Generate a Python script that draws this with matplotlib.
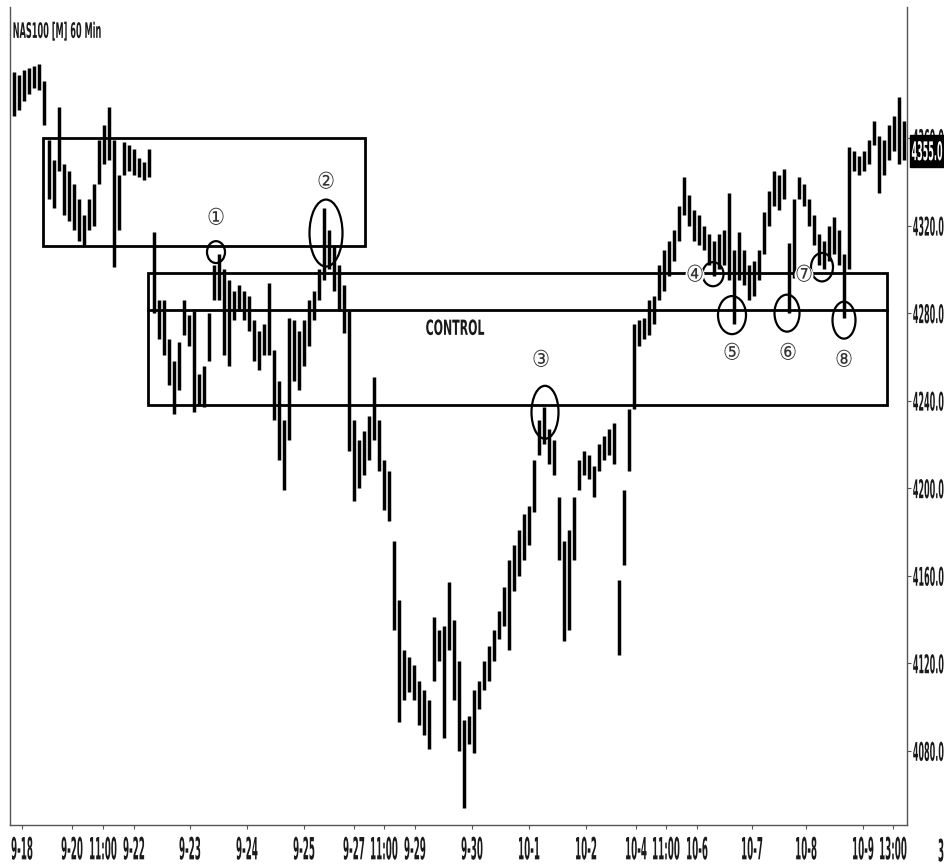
import matplotlib
matplotlib.use("Agg")
import matplotlib.pyplot as plt
from matplotlib.patches import Ellipse, Rectangle
from matplotlib.patheffects import AbstractPathEffect
from matplotlib.transforms import Affine2D, blended_transform_factory
import numpy as np

# ---------------- data ----------------
highs = [4390, 4389, 4391, 4392, 4393, 4394, 4386, 4359, 4350, 4374,
         4348, 4345, 4339, 4332, 4325, 4332, 4339, 4359, 4366, 4374,
         4359, 4343, 4358, 4357, 4355, 4351, 4349, 4355, 4317, 4286,
         4286, 4268, 4258, 4267, 4286, 4279, 4281, 4252, 4256, 4280,
         4302, 4307, 4300, 4295, 4290, 4293, 4290, 4288, 4277, 4272,
         4275, 4294, 4263, 4249, 4231, 4278, 4277, 4272, 4277, 4286,
         4290, 4300, 4328, 4318, 4311, 4302, 4293, 4281, 4231, 4222,
         4226, 4233, 4251, 4231, 4213, 4208, 4176, 4149, 4126, 4123,
         4119, 4112, 4108, 4103, 4141, 4135, 4137, 4157, 4140, 4121,
         4094, 4096, 4108, 4112, 4121, 4128, 4135, 4144, 4155, 4167,
         4174, 4181, 4188, 4192, 4213, 4231, 4237, 4227, 4222, 4196,
         4176, 4181, 4196, 4213, 4217, 4215, 4210, 4220, 4224, 4227,
         4230, 4158, 4199, 4236, 4275, 4277, 4278, 4286, 4288, 4302,
         4309, 4313, 4318, 4329, 4342, 4334, 4327, 4325, 4320, 4316,
         4313, 4316, 4318, 4335, 4309, 4317, 4309, 4302, 4304, 4309,
         4326, 4336, 4345, 4343, 4346, 4312, 4332, 4342, 4339, 4332,
         4325, 4316, 4313, 4320, 4324, 4318, 4307, 4356, 4354, 4352,
         4354, 4359, 4368, 4361, 4359, 4366, 4370, 4379, 4368]
lows = [4370, 4373, 4377, 4380, 4383, 4382, 4366, 4332, 4328, 4345,
        4325, 4322, 4318, 4313, 4311, 4318, 4320, 4339, 4348, 4350,
        4301, 4318, 4343, 4345, 4343, 4342, 4341, 4342, 4280, 4268,
        4261, 4247, 4234, 4245, 4270, 4265, 4235, 4238, 4237, 4258,
        4286, 4286, 4261, 4256, 4277, 4281, 4277, 4272, 4258, 4254,
        4261, 4261, 4231, 4213, 4199, 4222, 4249, 4245, 4256, 4265,
        4277, 4286, 4295, 4300, 4290, 4281, 4271, 4217, 4194, 4200,
        4206, 4213, 4222, 4208, 4190, 4185, 4135, 4093, 4103, 4107,
        4103, 4092, 4087, 4081, 4112, 4121, 4086, 4126, 4103, 4080,
        4054, 4083, 4079, 4099, 4108, 4112, 4121, 4131, 4137, 4126,
        4153, 4160, 4167, 4174, 4189, 4215, 4220, 4211, 4206, 4167,
        4130, 4135, 4167, 4199, 4206, 4204, 4196, 4208, 4213, 4215,
        4211, 4124, 4165, 4208, 4236, 4265, 4268, 4270, 4275, 4286,
        4290, 4297, 4304, 4313, 4325, 4320, 4313, 4311, 4309, 4302,
        4297, 4300, 4302, 4295, 4275, 4295, 4293, 4286, 4288, 4295,
        4307, 4320, 4329, 4327, 4332, 4280, 4296, 4332, 4329, 4320,
        4311, 4302, 4300, 4304, 4307, 4302, 4278, 4300, 4345, 4343,
        4345, 4348, 4357, 4335, 4343, 4350, 4354, 4348, 4350]

date_tick_pos = [1.6, 11.6, 17.8, 24.0, 35.2, 46.6, 58.0, 68.0, 74.0, 80.2,
                 91.6, 103.0, 114.4, 124.4, 130.4, 136.6, 147.6, 158.4, 169.8, 175.8]
date_tick_labels = ["9-18", "9-20", "11:00", "9-22", "9-23", "9-24", "9-25", "9-27", "11:00", "9-29",
                    "9-30", "10-1", "10-2", "10-4", "11:00", "10-6", "10-7", "10-8", "10-9", "13:00"]
price_ticks = [4080, 4120, 4160, 4200, 4240, 4280, 4320, 4360]
last_price = 4355.0

# zones (price levels and bar-index spans)
upper_zone = (5.8, 70.2, 4310.6, 4360.0)
control_zone = (26.8, 174.6, 4237.9, 4298.3)
control_mid = 4281.4

# circled marks: (label, center index, center price, width, height, label index, label price)
marks = [
    ("①", 40.4, 4307.9, 3.6, 10.0, 40.4, 4323.4),
    ("②", 62.4, 4316.6, 6.6, 30.6, 62.4, 4339.9),
    ("③", 106.2, 4234.7, 5.4, 24.2, 105.4, 4258.5),
    ("④", 139.8, 4297.8, 4.2, 11.0, 136.2, 4297.4),
    ("⑤", 143.6, 4279.1, 5.6, 17.4, 143.6, 4261.7),
    ("⑥", 154.6, 4280.0, 5.0, 16.9, 154.8, 4261.7),
    ("⑦", 161.6, 4301.0, 4.4, 13.0, 158.0, 4297.4),
    ("⑧", 166.0, 4276.8, 4.6, 16.9, 166.0, 4258.5),
]


# ---------------- helpers ----------------
class Tall(AbstractPathEffect):
    """Draw text glyphs vertically stretched, imitating the chart's very narrow, tall face."""

    def __init__(self, sy=2.0, anchor="center"):
        super().__init__()
        self.sy, self.anchor = sy, anchor

    def draw_path(self, renderer, gc, tpath, affine, rgbFace=None):
        ext = tpath.get_extents()
        cy = ext.y1 if self.anchor == "top" else 0.5 * (ext.y0 + ext.y1)
        t = Affine2D().translate(0, -cy).scale(1.0, self.sy).translate(0, cy)
        renderer.draw_path(gc, tpath, t + affine, rgbFace)


FONT = ["DejaVu Sans", "Noto Sans CJK JP"]
INK = "#1a1a1a"

# ---------------- drawing ----------------
fig = plt.figure(figsize=(9.45, 8.65), dpi=100)
fig.patch.set_facecolor("white")
ax = fig.add_axes([10 / 945, 40 / 865, 897 / 945, 818 / 865])

x = np.arange(len(highs))
ax.vlines(x, lows, highs, color="black", linewidth=2.5, zorder=3)

ax.set_xlim(-0.8, 178.6)
ax.set_ylim(4046.1, 4419.9)

# zones
x0, x1, y0, y1 = upper_zone
ax.add_patch(Rectangle((x0, y0), x1 - x0, y1 - y0, fill=False, edgecolor="black", linewidth=2.0, zorder=4))
x0, x1, y0, y1 = control_zone
ax.add_patch(Rectangle((x0, y0), x1 - x0, y1 - y0, fill=False, edgecolor="black", linewidth=2.0, zorder=4))
ax.plot([x0, x1], [control_mid, control_mid], color="black", linewidth=2.0, zorder=4)

ax.text(88.2, 4273.1, "CONTROL", ha="center", va="center", fontsize=7.9, fontweight="bold",
        family=FONT, color=INK, zorder=5, path_effects=[Tall(1.9)])

for lab, cx, cy, w, h, lx, ly in marks:
    ax.add_patch(Ellipse((cx, cy), w, h, fill=False, edgecolor="black", linewidth=1.6, zorder=5))
    ax.text(lx, ly, lab, ha="center", va="center", fontsize=14.5, family=FONT, color="#333333",
            zorder=6, bbox=dict(boxstyle="circle,pad=0.0", facecolor="white", edgecolor="none"),
            path_effects=[Tall(1.15)])

# title
ax.text(0.003, 0.983, "NAS100 [M] 60 Min", transform=ax.transAxes, ha="left", va="top",
        fontsize=5.9, fontweight="bold", family=FONT, color=INK, path_effects=[Tall(2.6, "top")])

# axes styling
ax.spines["top"].set_visible(False)
for side in ["left", "right", "bottom"]:
    ax.spines[side].set_color("#555555")
    ax.spines[side].set_linewidth(1.0)

ax.yaxis.tick_right()
ax.set_yticks(price_ticks)
ax.set_yticklabels([f"{v:.1f}" for v in price_ticks])
ax.tick_params(axis="y", which="both", length=3, width=0.8, color="#555555", pad=1.2,
               labelsize=5.8, left=False, right=True)
for t in ax.get_yticklabels():
    t.set_fontweight("bold")
    t.set_family(FONT)
    t.set_color(INK)
    t.set_path_effects([Tall(3.2)])

ax.set_xticks(date_tick_pos)
ax.set_xticklabels(date_tick_labels)
ax.tick_params(axis="x", length=3, width=0.8, color="#555555", pad=5, labelsize=6.3)
for t in ax.get_xticklabels():
    t.set_fontweight("bold")
    t.set_family(FONT)
    t.set_color(INK)
    t.set_path_effects([Tall(3.5, "top")])

# last-price marker
blend = blended_transform_factory(ax.transAxes, ax.transData)
ax.add_patch(Rectangle((1.003, 4346.7), 0.06, 14.7, transform=blend, facecolor="black",
                       edgecolor="black", clip_on=False, zorder=9))
ax.text(1.005, 4354.0, f"{last_price:.1f}", transform=blend, ha="left", va="center",
        fontsize=5.8, fontweight="bold", family=FONT, color="white", clip_on=False, zorder=10,
        path_effects=[Tall(3.2)])

fig.text(938 / 945, 1 - 838 / 865, "3", ha="left", va="top", fontsize=6.3, fontweight="bold",
         family=FONT, color=INK, path_effects=[Tall(3.5, "top")])

fig.savefig("out.png", dpi=100, facecolor="white")
